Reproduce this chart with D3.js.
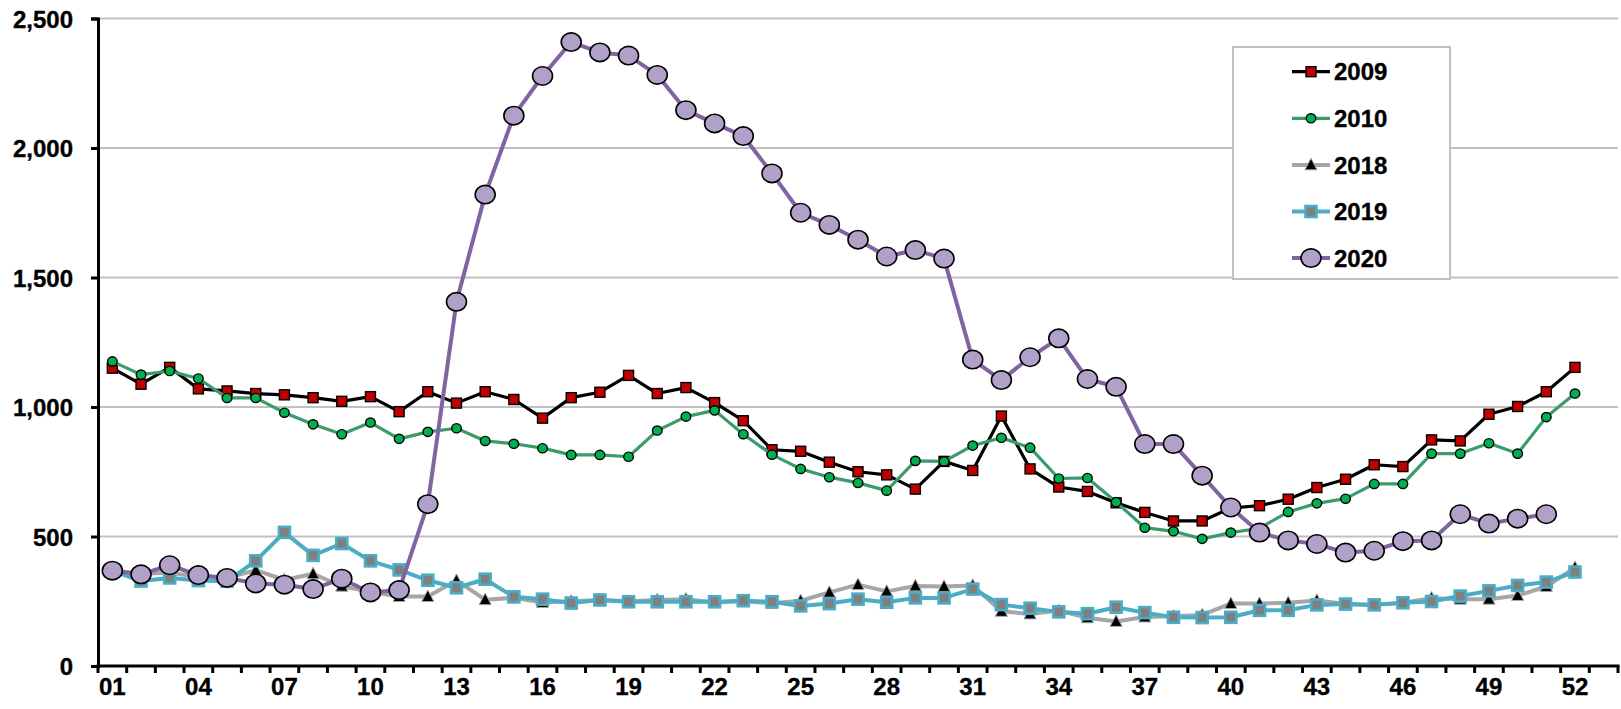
<!DOCTYPE html>
<html>
<head>
<meta charset="utf-8">
<script src="https://cdn.jsdelivr.net/npm/d3@7"></script>
<style>
  html, body { margin: 0; padding: 0; background: #fff; }
  svg { display: block; }
  text { font-family: "Liberation Sans", Arial, sans-serif; font-weight: bold; fill: #000; stroke: #000; stroke-width: 0.35px; }
</style>
</head>
<body>
<svg id="chart" width="1621" height="709"></svg>
<script>
// ---- data ----
const weeks = d3.range(1, 54).map(d => String(d).padStart(2, "0")); // 53 slots
const tickLabels = ["01","04","07","10","13","16","19","22","25","28","31","34","37","40","43","46","49","52"];
const yTicks = [0, 500, 1000, 1500, 2000, 2500];

const s2009 = [1150,1088,1153,1070,1062,1052,1047,1036,1022,1040,982,1059,1015,1059,1029,957,1036,1057,1122,1052,1075,1017,947,835,829,787,750,738,683,790,755,965,761,691,674,630,593,560,560,610,619,644,689,721,777,770,873,869,972,1002,1059,1153];
const s2010 = [1176,1125,1139,1110,1035,1035,978,933,895,940,877,904,918,869,858,841,815,815,808,909,963,987,895,816,761,729,707,677,792,790,851,881,843,724,726,633,534,520,491,515,532,595,628,646,703,703,820,820,860,820,961,1052];
const s2018 = [370,356,360,345,340,370,332,356,308,287,268,268,330,256,263,245,250,255,250,255,258,245,250,242,252,284,314,288,309,307,311,211,201,214,186,172,189,192,197,241,241,244,253,239,236,244,262,258,258,272,307,380];
const s2019 = [368,328,340,330,327,406,516,427,473,406,371,331,302,335,267,258,243,255,248,248,248,248,252,248,232,241,258,246,263,263,297,237,223,209,202,227,206,188,187,188,215,215,236,239,236,244,249,270,290,311,324,363];
const s2020 = [368,354,389,351,340,319,314,297,337,284,293,625,1406,1820,2125,2278,2409,2369,2357,2282,2146,2095,2046,1902,1750,1703,1646,1581,1606,1573,1183,1104,1192,1265,1108,1078,857,857,735,612,515,485,471,438,445,482,485,586,550,569,586];

const seriesNames = ["2009","2010","2018","2019","2020"];
const seriesValues = [s2009, s2010, s2018, s2019, s2020];

// ---- styles ----
const styles = {
  "2009": { line: "#000000", lw: 3.2, marker: "square", size: 10, fill: "#c00000", stroke: "#000", sw: 1.4 },
  "2010": { line: "#3a9b6c", lw: 3.2, marker: "circle", rx: 4.8, ry: 4.6, fill: "#00b050", stroke: "#000", sw: 1.4 },
  "2018": { line: "#a6a6a6", lw: 4, marker: "triangle", size: 11, fill: "#000", stroke: "#a6a6a6", sw: 1 },
  "2019": { line: "#4bacc6", lw: 4, marker: "square", size: 11, fill: "#7f7f7f", stroke: "#4bacc6", sw: 2.6 },
  "2020": { line: "#8064a2", lw: 4, marker: "circle", rx: 10, ry: 9.2, fill: "#b1a0c7", stroke: "#000", sw: 1.6 }
};

(function () {
const svg = d3.select("#chart");
const pLeft = 98, pRight = 1618, pTop = 18.5, pBottom = 666;
const FS = 24;

const x = d3.scaleBand().domain(weeks).range([pLeft, pRight]).padding(0);
const bw = x.bandwidth();
const cx = i => x(weeks[i]) + bw / 2;
const y = d3.scaleLinear().domain([0, 2500]).range([pBottom, pTop]);

// gridlines
svg.append("g").selectAll("line").data(yTicks.filter(d => d > 0)).join("line")
  .attr("x1", pLeft).attr("x2", pRight)
  .attr("y1", d => y(d)).attr("y2", d => y(d))
  .attr("stroke", "#c0c0c0").attr("stroke-width", 2);

// y axis
const yAxis = svg.append("g").attr("transform", `translate(${pLeft},0)`)
  .call(d3.axisLeft(y).tickValues(yTicks).tickFormat(d3.format(",")).tickSize(7).tickPadding(18));
yAxis.select(".domain").attr("stroke", "#000").attr("stroke-width", 3);
yAxis.selectAll(".tick line").attr("stroke", "#000").attr("stroke-width", 3);
yAxis.selectAll(".tick text").attr("font-size", FS).attr("font-family", "Liberation Sans, Arial, sans-serif")
  .attr("font-weight", "bold").attr("fill", "#000").attr("dy", "0.36em");

// x axis
const xAxis = svg.append("g").attr("transform", `translate(0,${pBottom})`)
  .call(d3.axisBottom(x).tickValues(tickLabels).tickSize(0).tickPadding(12));
xAxis.select(".domain").remove();
xAxis.selectAll(".tick text").attr("font-size", FS).attr("font-family", "Liberation Sans, Arial, sans-serif")
  .attr("font-weight", "bold").attr("fill", "#000");
// boundary ticks
const bounds = weeks.map(w => x(w)).concat([x(weeks[weeks.length - 1]) + bw]);
svg.append("g").selectAll("line").data(bounds).join("line")
  .attr("x1", d => d).attr("x2", d => d)
  .attr("y1", pBottom).attr("y2", pBottom + 7)
  .attr("stroke", "#000").attr("stroke-width", 3);
svg.append("line").attr("x1", pLeft - 1.5).attr("x2", pRight + 1.5).attr("y1", pBottom).attr("y2", pBottom)
  .attr("stroke", "#000").attr("stroke-width", 3);

// marker drawing
function drawMarker(g, st, px, py) {
  if (st.marker === "square") {
    g.append("rect").attr("x", px - st.size / 2).attr("y", py - st.size / 2)
      .attr("width", st.size).attr("height", st.size)
      .attr("fill", st.fill).attr("stroke", st.stroke).attr("stroke-width", st.sw);
  } else if (st.marker === "circle") {
    g.append("ellipse").attr("cx", px).attr("cy", py).attr("rx", st.rx).attr("ry", st.ry)
      .attr("fill", st.fill).attr("stroke", st.stroke).attr("stroke-width", st.sw);
  } else if (st.marker === "triangle") {
    const s = st.size;
    g.append("path").attr("d", `M${px},${py - s * 0.6}L${px + s * 0.55},${py + s * 0.45}L${px - s * 0.55},${py + s * 0.45}Z`)
      .attr("fill", st.fill).attr("stroke", st.stroke).attr("stroke-width", st.sw);
  }
}

// series
const line = d3.line().x((d, i) => cx(i)).y(d => y(d));
seriesNames.forEach((name, k) => {
  const st = styles[name];
  const vals = seriesValues[k];
  const g = svg.append("g");
  g.append("path").datum(vals).attr("d", line).attr("fill", "none")
    .attr("stroke", st.line).attr("stroke-width", st.lw).attr("stroke-linejoin", "round");
  vals.forEach((v, i) => drawMarker(g, st, cx(i), y(v)));
});

// legend
const lg = svg.append("g");
lg.append("rect").attr("x", 1233).attr("y", 47).attr("width", 217).attr("height", 232)
  .attr("fill", "#fff").attr("stroke", "#c0c0c0").attr("stroke-width", 2);
seriesNames.forEach((name, k) => {
  const st = styles[name];
  const ly = 71.7 + k * 46.6;
  lg.append("line").attr("x1", 1292).attr("x2", 1330).attr("y1", ly).attr("y2", ly)
    .attr("stroke", st.line).attr("stroke-width", st.lw);
  drawMarker(lg, st, 1311, ly);
  lg.append("text").attr("x", 1334).attr("y", ly).attr("dy", "0.36em")
    .attr("font-size", FS).text(name);
});
})();
</script>
</body>
</html>
